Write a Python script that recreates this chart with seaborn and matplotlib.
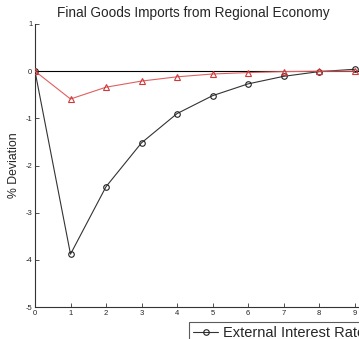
import matplotlib
matplotlib.use("Agg")
import matplotlib.pyplot as plt
import seaborn as sns
import pandas as pd

sns.set_theme(style="white")
plt.rcParams["font.family"] = ["Liberation Sans", "DejaVu Sans"]

periods = [0, 1, 2, 3, 4, 5, 6, 7, 8, 9]
premium_shock = [0.0, -3.88, -2.45, -1.52, -0.90, -0.52, -0.27, -0.11, -0.01, 0.04]
regional_shock = [0.0, -0.59, -0.34, -0.21, -0.12, -0.06, -0.03, -0.01, 0.0, 0.0]
y_ticks = [1, 0, -1, -2, -3, -4, -5]
x_ticks = [0, 1, 2, 3, 4, 5, 6, 7, 8, 9, 10]

df = pd.DataFrame({"period": periods, "premium": premium_shock, "regional": regional_shock})

fig = plt.figure(figsize=(3.59, 3.39), dpi=100)
ax = fig.add_axes([35 / 359, 32 / 339, 355 / 359, 283 / 339])

ax.axhline(0, color="black", lw=0.8, zorder=1)
sns.lineplot(data=df, x="period", y="regional", ax=ax, color="#e06060", lw=0.8,
             marker="^", markersize=4, markerfacecolor="none",
             markeredgecolor="#d03838", markeredgewidth=0.8, zorder=3)
sns.lineplot(data=df, x="period", y="premium", ax=ax, color="#333333", lw=0.8,
             marker="o", markersize=4, markerfacecolor="none",
             markeredgecolor="#222222", markeredgewidth=0.8, zorder=2,
             label="External Interest Rate Premium Shock")

ax.set_xlim(0, 10)
ax.set_ylim(-5, 1)
ax.set_xticks(x_ticks)
ax.set_yticks(y_ticks)
ax.set_xticklabels([str(t) for t in x_ticks], fontsize=5.5)
ax.set_yticklabels([str(t) for t in y_ticks], fontsize=5.5)
ax.tick_params(direction="in", length=3, width=0.6, color="#333333", pad=2,
               bottom=True, left=True)
for side in ("top", "right"):
    ax.spines[side].set_visible(False)
for side in ("left", "bottom"):
    ax.spines[side].set_color("#333333")
    ax.spines[side].set_linewidth(0.8)

ax.set_xlabel("")
ax.set_ylabel("% Deviation", fontsize=8.8, labelpad=4)
fig.text(193 / 359, 1 - 13 / 339, "Final Goods Imports from Regional Economy",
         ha="center", va="center", fontsize=9.8)

leg = ax.legend(loc="upper left", bbox_to_anchor=(189 / 359, 17 / 339),
                bbox_transform=fig.transFigure, fontsize=10.5, frameon=True,
                fancybox=False, edgecolor="#333333", handlelength=1.7,
                borderaxespad=0, borderpad=0.3, handletextpad=0.3)
leg.get_frame().set_linewidth(0.8)

fig.savefig("out.png", dpi=100)
